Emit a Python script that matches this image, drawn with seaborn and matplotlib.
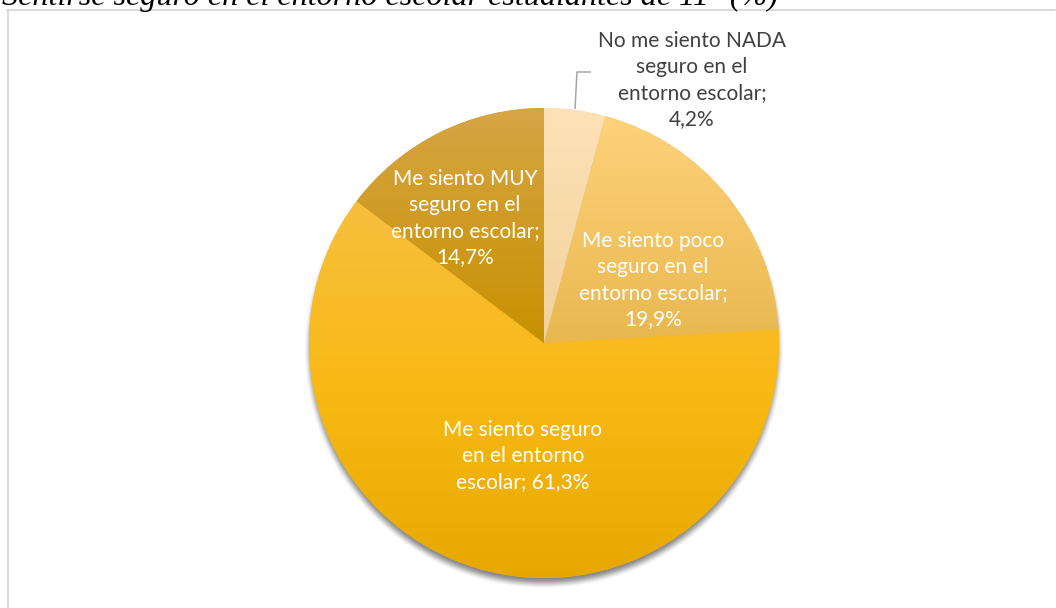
import numpy as np
import matplotlib
matplotlib.use("Agg")
import matplotlib.pyplot as plt
import seaborn as sns
from matplotlib.colors import LinearSegmentedColormap
from matplotlib.lines import Line2D

# --- data -------------------------------------------------------------
categories = [
    "No me siento NADA\nseguro en el\nentorno escolar",
    "Me siento poco\nseguro en el\nentorno escolar",
    "Me siento seguro\nen el entorno\nescolar",
    "Me siento MUY\nseguro en el\nentorno escolar",
]
values = [4.2, 19.9, 61.3, 14.7]
value_sep = [";\n", ";\n", "; ", ";\n"]
title = "Sentirse seguro en el entorno escolar estudiantes de 11° (%)"

# slice fills: top / middle / bottom of each slice's vertical gradient
grad_colors = [
    ["#FEE2B7", "#F8DAA9", "#F1D19C"],
    ["#FED27B", "#F4C565", "#E7B84F"],
    ["#F7BF3E", "#F9B914", "#E6A800"],
    ["#D7A546", "#CF9B22", "#C89100"],
]
base_colors = [c[1] for c in grad_colors]
label_colors = ["#404040", "white", "white", "white"]

# --- layout (pixels) ---------------------------------------------------
W, H = 1056, 608
CX, CY, R = 544, 343, 235
label_px = [(692, 80), (653, 280), (523, 456), (465, 218)]


def P(x, y):
    """pixel position -> pie data coordinates"""
    return ((x - CX) / R, (CY - y) / R)


sns.set_theme(style="white")
plt.rcParams["font.family"] = ["Lato", "DejaVu Sans"]

fig = plt.figure(figsize=(W / 100, H / 100), dpi=100)
fig.patch.set_facecolor("white")
ax = fig.add_axes([0, 0, 1, 1])

xlim = (-CX / R, (W - CX) / R)
ylim = (-(H - CY) / R, CY / R)

# soft drop shadow below the pie
gx = np.linspace(*xlim, 1056)
gy = np.linspace(*ylim, 608)
X, Y = np.meshgrid(gx, gy)
off, blur = 6 / R, 11 / R
d = np.hypot(X, Y + off) - 1.0
t = np.clip((d + blur / 2) / blur, 0, 1)
alpha = 0.6 * (1 - (3 * t**2 - 2 * t**3))
shadow = np.zeros(X.shape + (4,))
shadow[..., :3] = 0.22
shadow[..., 3] = alpha
ax.imshow(shadow, extent=(*xlim, *ylim), origin="lower", zorder=0,
          interpolation="bilinear")

wedges, _ = ax.pie(values, colors=base_colors, startangle=90,
                   counterclock=False,
                   wedgeprops=dict(linewidth=0))

# vertical gradient inside each slice
for w, cols in zip(wedges, grad_colors):
    w.set_zorder(1)
    verts = w.get_path().vertices
    ymin, ymax = verts[:, 1].min(), verts[:, 1].max()
    cmap = LinearSegmentedColormap.from_list("g", cols[::-1])
    grad = np.linspace(0, 1, 256).reshape(-1, 1)
    im = ax.imshow(grad, cmap=cmap, extent=(-1.01, 1.01, ymin, ymax),
                   origin="lower", aspect="auto", zorder=1.5,
                   interpolation="bilinear")
    im.set_clip_path(w)

# data labels
for name, val, sep, pos, col in zip(categories, values, value_sep,
                                    label_px, label_colors):
    txt = f"{name}{sep}{val:.1f}%".replace(".", ",")
    ax.text(*P(*pos), txt, ha="center", va="center", color=col,
            fontsize=15, linespacing=1.38, zorder=3)

# leader line for the smallest slice
lx, ly = zip(P(575, 109), P(577, 72), P(591, 72))
ax.plot(lx, ly, color="#A6A6A6", lw=1.1, zorder=3, solid_capstyle="butt")

ax.set_xlim(*xlim)
ax.set_ylim(*ylim)
ax.set_aspect("equal")
ax.axis("off")

# chart area border
fig.add_artist(Line2D([7.5 / W, 7.5 / W], [0, 1 - 10 / H],
                      transform=fig.transFigure, color="#D9D9D9", lw=1.4))
fig.add_artist(Line2D([7 / W, 1055 / W], [1 - 10 / H, 1 - 10 / H],
                      transform=fig.transFigure, color="#D9D9D9", lw=1.4))

# caption above the chart
cap = fig.text(2 / W, 1 - 5 / H, title, family="Liberation Serif",
               style="italic", fontsize=20, va="baseline", ha="left",
               color="black")
fig.canvas.draw()
wpx = cap.get_window_extent().width
cap.set_fontsize(20 * 778 / wpx)

fig.savefig("out.png", dpi=100, facecolor="white")
